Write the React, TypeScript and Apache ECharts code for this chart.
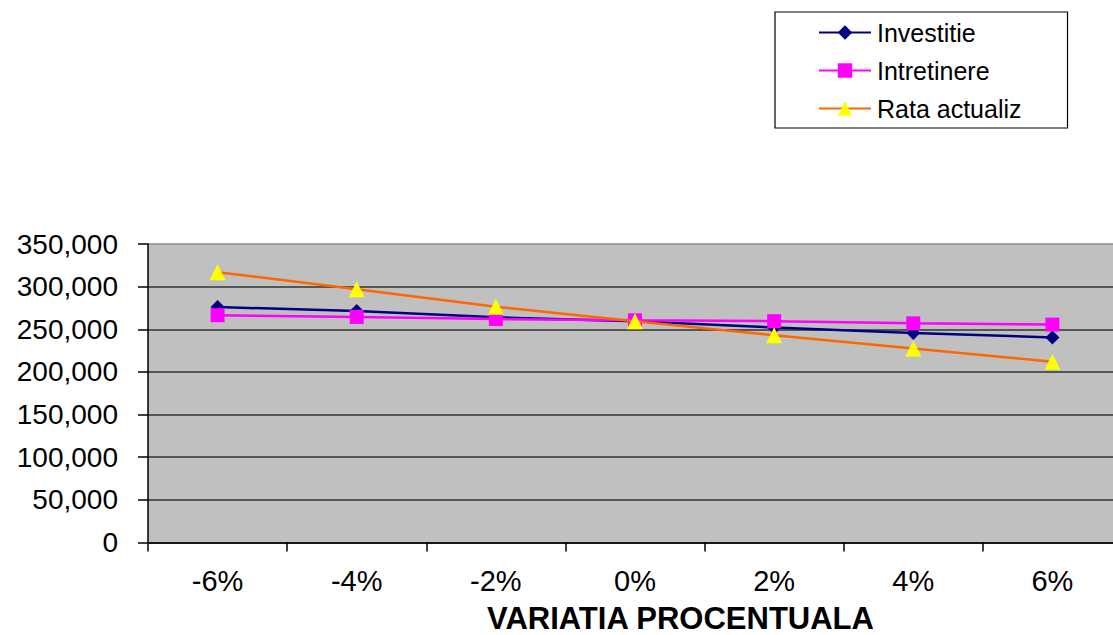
import React, { useEffect, useRef } from "react";
import * as echarts from "echarts";

const categories = ["-6%", "-4%", "-2%", "0%", "2%", "4%", "6%"];
const investitie = [276000, 271500, 264000, 259500, 252000, 245500, 240500];
const intretinere = [266500, 264500, 262000, 260500, 259500, 257000, 255500];
const rataActualiz = [317000, 297000, 276500, 259500, 243000, 227500, 212000];
const yTicks = { min: 0, max: 350000, interval: 50000 };
const xTitle = "VARIATIA PROCENTUALA";

const FONT = "'Liberation Sans', Arial, sans-serif";

export default function App() {
  const ref = useRef<HTMLDivElement>(null);
  useEffect(() => {
    if (!ref.current) return;
    const chart = echarts.init(ref.current, undefined, { renderer: "svg" });
    const splitColors = ["#333333", "#333333", "#333333", "#333333", "#333333", "#333333", "#333333", "#8a8a8a"];
    chart.setOption({
      animation: false,
      backgroundColor: "#ffffff",
      textStyle: { fontFamily: FONT, color: "#000" },
      grid: {
        left: 148,
        top: 244,
        width: 974,
        height: 298.5,
        show: true,
        backgroundColor: "#C0C0C0",
        borderWidth: 0,
      },
      legend: {
        orient: "vertical",
        left: 775,
        top: 12,
        padding: [8, 46, 7, 43],
        backgroundColor: "#ffffff",
        borderColor: "#000000",
        borderWidth: 1.2,
        borderRadius: 0,
        itemWidth: 52,
        itemHeight: 18,
        itemGap: 13,
        textStyle: { fontFamily: FONT, fontSize: 25, color: "#000", lineHeight: 25, padding: [0, 0, 0, 1] },
        data: ["Investitie", "Intretinere", "Rata actualiz"],
      },
      xAxis: {
        type: "category",
        data: categories,
        boundaryGap: true,
        axisLine: { show: true, lineStyle: { color: "#000", width: 1.5 } },
        axisTick: { show: true, length: 9, inside: false, lineStyle: { color: "#000", width: 1.5 } },
        axisLabel: { fontFamily: FONT, fontSize: 29, color: "#000", margin: 24 },
        splitLine: { show: false },
      },
      yAxis: {
        type: "value",
        min: yTicks.min,
        max: yTicks.max,
        interval: yTicks.interval,
        axisLine: { show: true, lineStyle: { color: "#000", width: 1.5 } },
        axisTick: { show: true, length: 10, inside: false, lineStyle: { color: "#000", width: 1.5 } },
        axisLabel: {
          fontFamily: FONT,
          fontSize: 28,
          color: "#000",
          margin: 30,
          formatter: (v: number) => v.toLocaleString("en-US"),
        },
        splitLine: { show: true, lineStyle: { color: splitColors, width: 1.5 } },
      },
      graphic: [
        {
          type: "text",
          left: 487,
          top: 603,
          style: { text: xTitle, fontFamily: FONT, fontSize: 31, fontWeight: "bold", fill: "#000" },
        },
      ],
      series: [
        {
          name: "Investitie",
          type: "line",
          data: investitie,
          symbol: "diamond",
          symbolSize: 14,
          lineStyle: { color: "#000080", width: 2.5 },
          itemStyle: { color: "#000080" },
          z: 3,
        },
        {
          name: "Intretinere",
          type: "line",
          data: intretinere,
          symbol: "rect",
          symbolSize: 14,
          lineStyle: { color: "#FF00FF", width: 2.5 },
          itemStyle: { color: "#FF00FF" },
          z: 4,
        },
        {
          name: "Rata actualiz",
          type: "line",
          data: rataActualiz,
          symbol: "triangle",
          symbolSize: 16,
          lineStyle: { color: "#FF6600", width: 2.5 },
          itemStyle: { color: "#FFFF00" },
          z: 5,
        },
      ],
    });
    return () => chart.dispose();
  }, []);
  return (
    <div
      style={{ position: "absolute", left: 0, top: 0, width: 1113, height: 635, overflow: "hidden" }}
    >
      <div ref={ref} style={{ position: "absolute", left: 0, top: 0, width: 1130, height: 635 }} />
    </div>
  );
}
